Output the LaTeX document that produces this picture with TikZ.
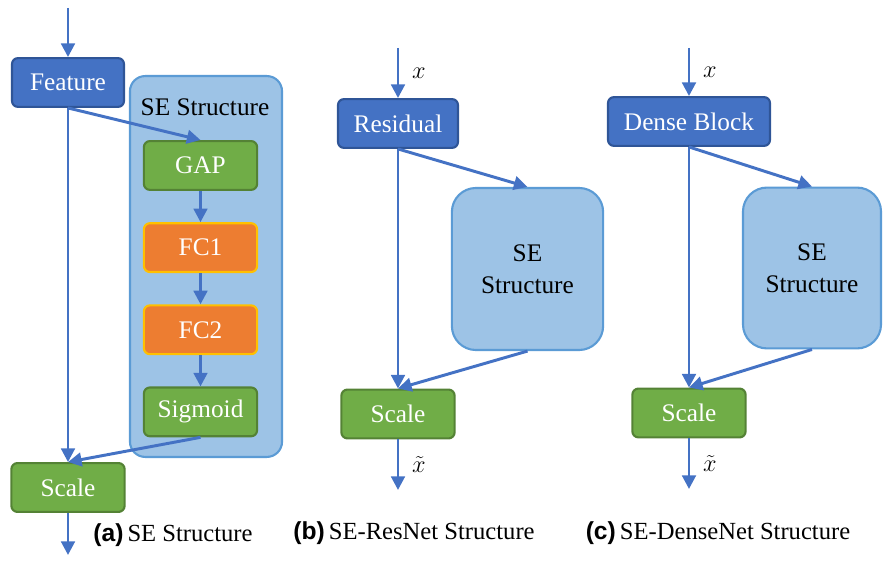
\documentclass[tikz,border=0pt]{standalone}
\usepackage{fontspec}
\setmainfont{Liberation Serif}
\newfontfamily\capfont{Liberation Sans}
\usetikzlibrary{arrows.meta,positioning}
\definecolor{featblue}{HTML}{4472C4}
\definecolor{featline}{HTML}{2F5597}
\definecolor{seblue}{HTML}{9DC3E6}
\definecolor{seline}{HTML}{5B9BD5}
\definecolor{opgreen}{HTML}{70AD47}
\definecolor{opline}{HTML}{548235}
\definecolor{fcorange}{HTML}{ED7D31}
\definecolor{fcline}{HTML}{FFC000}

\begin{document}
\begin{tikzpicture}[x=0.025cm,y=-0.025cm,
>={Triangle[length=3.4mm,width=3.4mm]},
flow/.style={
% blue connector
line width=2.1pt, draw=featblue},
block/.style={
% The shape:
rectangle, rounded corners=0.15cm,
% The size:
minimum width=2.83cm, minimum height=1.22cm,
% The border and text:
line width=1.5pt, text=white,
font=\fontsize{18}{21}\selectfont},
feat/.style={block, fill=featblue, draw=featline},
op/.style={block, fill=opgreen, draw=opline},
fc/.style={block, fill=fcorange, draw=fcline},
sebox/.style={
% the light blue SE container
rectangle, rounded corners=0.6cm, line width=1.5pt,
fill=seblue, draw=seline, align=center,
font=\fontsize{18}{23}\selectfont},
lbl/.style={font=\fontsize{18}{21}\selectfont},
caption/.style={font=\fontsize{17.5}{21}\selectfont}]

\useasboundingbox (0,0) rectangle (883,563);

% (a) SE Structure
\node (sea) [sebox, rounded corners=0.38cm, minimum width=3.8cm, minimum height=9.52cm] at (206,266.5) {};
\node (setitle) [lbl] at (205,107) {SE Structure};
\node (fta) [feat, minimum width=2.8cm] at (68,82.5) {Feature};
\node (gap) [op] at (200.5,165.5) {GAP};
\node (fc1) [fc, below=0.78cm of gap] {FC1};
\node (fc2) [fc, below=0.78cm of fc1] {FC2};
\node (sig) [op, below=0.78cm of fc2] {Sigmoid};
\node (sca) [op] at (68,487.5) {Scale};
\coordinate (ina) at (68,8);
\coordinate (outa) at (68,555);
\node (capa) [caption] at (173,535) {{\capfont\bfseries (a)}\,SE Structure};

\draw[flow,->] (ina) -- (fta);
\draw[flow,->] (fta.south) -- (gap.north);
\draw[flow,->] (gap) -- (fc1);
\draw[flow,->] (fc1) -- (fc2);
\draw[flow,->] (fc2) -- (sig);
\draw[flow,->] (fta.south) -- (sca.north);
\draw[flow,->] (sig.south) -- (sca.north);
\draw[flow,->] (sca) -- (outa);

% (b) SE-ResNet Structure
\node (res) [feat, minimum width=3cm] at (398,123.5) {Residual};
\node (seb) [sebox, minimum width=3.78cm, minimum height=4.05cm] at (527.5,269) {SE\\Structure};
\node (scb) [op] at (398,414) {Scale};
\coordinate (inb) at (398,48);
\coordinate (outb) at (398,490);
\node (capb) [caption] at (414,533) {{\capfont\bfseries (b)}\,SE-ResNet Structure};

\draw[flow,->] (inb) -- node[lbl,right=2mm] {$x$} (res);
\draw[flow,->] (res.south) -- (seb.north);
\draw[flow,->] (res.south) -- (scb.north);
\draw[flow,->] (seb.south) -- (scb.north);
\draw[flow,->] (scb) -- node[lbl,right=2mm] {$\tilde{x}$} (outb);

% (c) SE-DenseNet Structure
\node (dense) [feat, minimum width=4.05cm] at (689,121.5) {Dense Block};
\node (sec) [sebox, minimum width=3.45cm, minimum height=4.02cm] at (812,268) {SE\\Structure};
\node (scc) [op] at (689,413) {Scale};
\coordinate (inc) at (689,48);
\coordinate (outc) at (689,489);
\node (capc) [caption] at (718,533) {{\capfont\bfseries (c)}\,SE-DenseNet Structure};

\draw[flow,->] (inc) -- node[lbl,right=2mm] {$x$} (dense);
\draw[flow,->] (dense.south) -- (sec.north);
\draw[flow,->] (dense.south) -- (scc.north);
\draw[flow,->] (sec.south) -- (scc.north);
\draw[flow,->] (scc) -- node[lbl,right=2mm] {$\tilde{x}$} (outc);
\end{tikzpicture}
\end{document}
